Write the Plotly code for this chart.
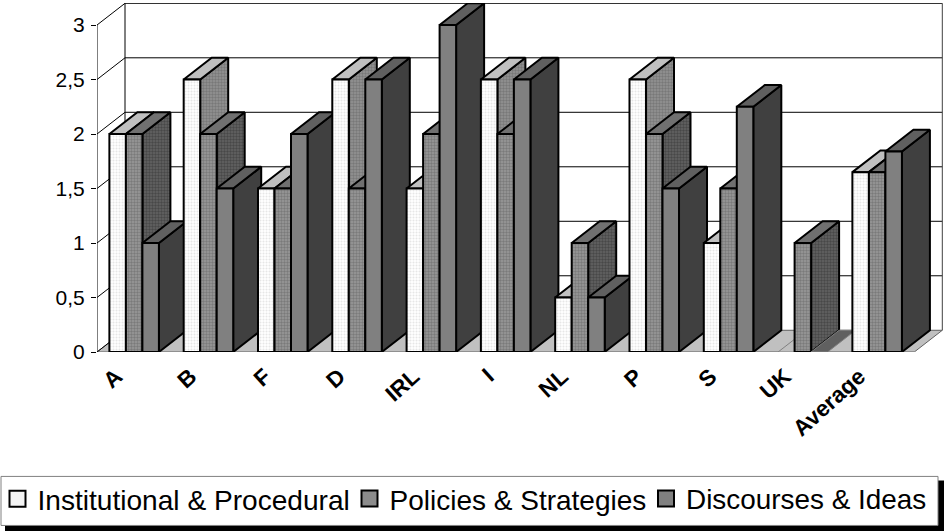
import plotly.graph_objects as go

categories = ["A", "B", "F", "D", "IRL", "I", "NL", "P", "S", "UK", "Average"]
institutional = [2, 2.5, 1.5, 2.5, 1.5, 2.5, 0.5, 2.5, 1, 0, 1.65]
policies = [2, 2, 1.5, 1.5, 2, 2, 1, 2, 1.5, 1, 1.65]
discourses = [1, 1.5, 2, 2.5, 3, 2.5, 0.5, 1.5, 2.25, 0, 1.84]
series_names = ["Institutional & Procedural", "Policies & Strategies", "Discourses & Ideas"]
y_ticks = [0, 0.5, 1, 1.5, 2, 2.5, 3]
y_tick_labels = ["0", "0,5", "1", "1,5", "2", "2,5", "3"]

W, H = 944, 531
L, R_PX = 97, 943
Y0_PX = 351.7
CAT_PX = 74.3
UNIT_PX = 108.9
T_PX = 3.0
DX = 28 / CAT_PX
DY = 21.7 / UNIT_PX
BAR_W = 0.2222
BAR_PAD = 0.1667
FONT = "Liberation Sans"
n = len(categories)
x_max = (R_PX - L) / CAT_PX
y_max = (Y0_PX - T_PX) / UNIT_PX


def px(v):
    return (v - L) / (R_PX - L)


def py(v):
    return (Y0_PX - v) / (Y0_PX - T_PX)


def pat(bg, fg, solidity=0.5):
    return dict(shape=".", bgcolor=bg, fgcolor=fg, size=3, solidity=solidity, fillmode="replace")


styles = [
    dict(front=("#ffffff", pat("#ffffff", "#e6e6e6", 0.35)), side=("#868686", pat("#949494", "#787878")), top=("#c0c0c0", None), swatch="#f4f4f4"),
    dict(front=("#8c8c8c", pat("#9a9a9a", "#7a7a7a")), side=("#555555", pat("#646464", "#484848")), top=("#707070", None), swatch="#8c8c8c"),
    dict(front=("#808080", None), side=("#404040", None), top=("#606060", None), swatch="#808080"),
]

fig = go.Figure()


def poly(xs, ys, face, line_color="#000000", width=2):
    color, pattern = face
    kw = dict(fillpattern=pattern) if pattern else {}
    fig.add_trace(go.Scatter(
        x=xs + xs[:1], y=ys + ys[:1], mode="lines", fill="toself", fillcolor=color,
        line=dict(color=line_color, width=width), showlegend=False, hoverinfo="skip",
        cliponaxis=False, **kw))


def line(xs, ys, color="#000000", width=1):
    fig.add_trace(go.Scatter(x=xs, y=ys, mode="lines", line=dict(color=color, width=width),
                             showlegend=False, hoverinfo="skip", cliponaxis=False))


# floor
poly([0, n, n + DX, DX], [0, 0, DY, DY], ("#c0c0c0", None), "#606060", 1)
# walls and grid
for v in y_ticks:
    if v > 0:
        line([0, DX, n + DX], [v, v + DY, v + DY])
line([0, 0], [0, 3], "#000000", 1)
line([DX, DX], [DY, 3 + DY], "#000000", 1)
line([n + DX, n + DX], [DY, 3 + DY], "#404040", 1)
line([0, DX], [0, DY], "#000000", 1)

# bars, painted left to right
for i in range(n):
    for s, vals in enumerate([institutional, policies, discourses]):
        v = vals[i]
        x0 = i + BAR_PAD + s * BAR_W
        x1 = x0 + BAR_W
        st = styles[s]
        if v > 0:
            poly([x1, x1 + DX, x1 + DX, x1], [0, DY, v + DY, v], st["side"])
        poly([x0, x1, x1 + DX, x0 + DX], [v, v, v + DY, v + DY], st["top"], "#000000" if v > 0 else "#808080", 2 if v > 0 else 1)
        if v > 0:
            poly([x0, x1, x1, x0], [0, 0, v, v], st["front"])

# legend entries, one legend box per entry so each sits at its own place
legend_ids = ["legend", "legend2", "legend3"]
for name, st, lid in zip(series_names, styles, legend_ids):
    fig.add_trace(go.Scatter(
        x=[None], y=[None], mode="markers", name=name, legend=lid,
        marker=dict(symbol="square", size=16, color=st["swatch"], line=dict(color="#000000", width=2))))


def legend_at(left, size):
    return dict(orientation="h", x=px(left), xanchor="left", y=py(473.5), yanchor="top",
                bgcolor="rgba(0,0,0,0)", borderwidth=0,
                font=dict(family=FONT, size=size, color="#000000"),
                itemclick=False, itemdoubleclick=False)


fig.update_layout(
    width=W, height=H,
    margin=dict(l=L, r=W - R_PX, t=T_PX, b=H - Y0_PX, pad=0, autoexpand=False),
    paper_bgcolor="#ffffff", plot_bgcolor="#ffffff",
    font=dict(family=FONT, color="#000000"),
    xaxis=dict(range=[0, x_max], tickmode="array",
               tickvals=[i + 0.26 for i in range(n)], ticktext=categories,
               tickangle=-42, ticks="", showgrid=False, zeroline=False, showline=False,
               ticklabelstandoff=6,
               tickfont=dict(family=FONT, size=22.5, weight=700, color="#000000"),
               ticklabeloverflow="allow"),
    yaxis=dict(range=[0, y_max], tickmode="array", tickvals=y_ticks, ticktext=y_tick_labels,
               ticks="outside", ticklen=5, tickcolor="#000000", tickwidth=1,
               ticklabelstandoff=2,
               showgrid=False, zeroline=False, showline=False,
               tickfont=dict(family=FONT, size=21, color="#000000")),
    legend=legend_at(-2.5, 28.1),
    legend2=legend_at(349.5, 28),
    legend3=legend_at(646, 27.9),
    shapes=[
        dict(type="rect", xref="paper", yref="paper", x0=px(5), x1=px(944), y0=py(480), y1=py(531),
             fillcolor="#000000", line=dict(width=0), layer="above"),
        dict(type="rect", xref="paper", yref="paper", x0=px(1), x1=px(938), y0=py(476), y1=py(525),
             fillcolor="#ffffff", line=dict(color="#808080", width=1), layer="above"),
    ],
)

fig.write_html("out.html", config=dict(displayModeBar=False),
               post_script="document.body.style.margin='0';document.body.style.overflow='hidden';")
